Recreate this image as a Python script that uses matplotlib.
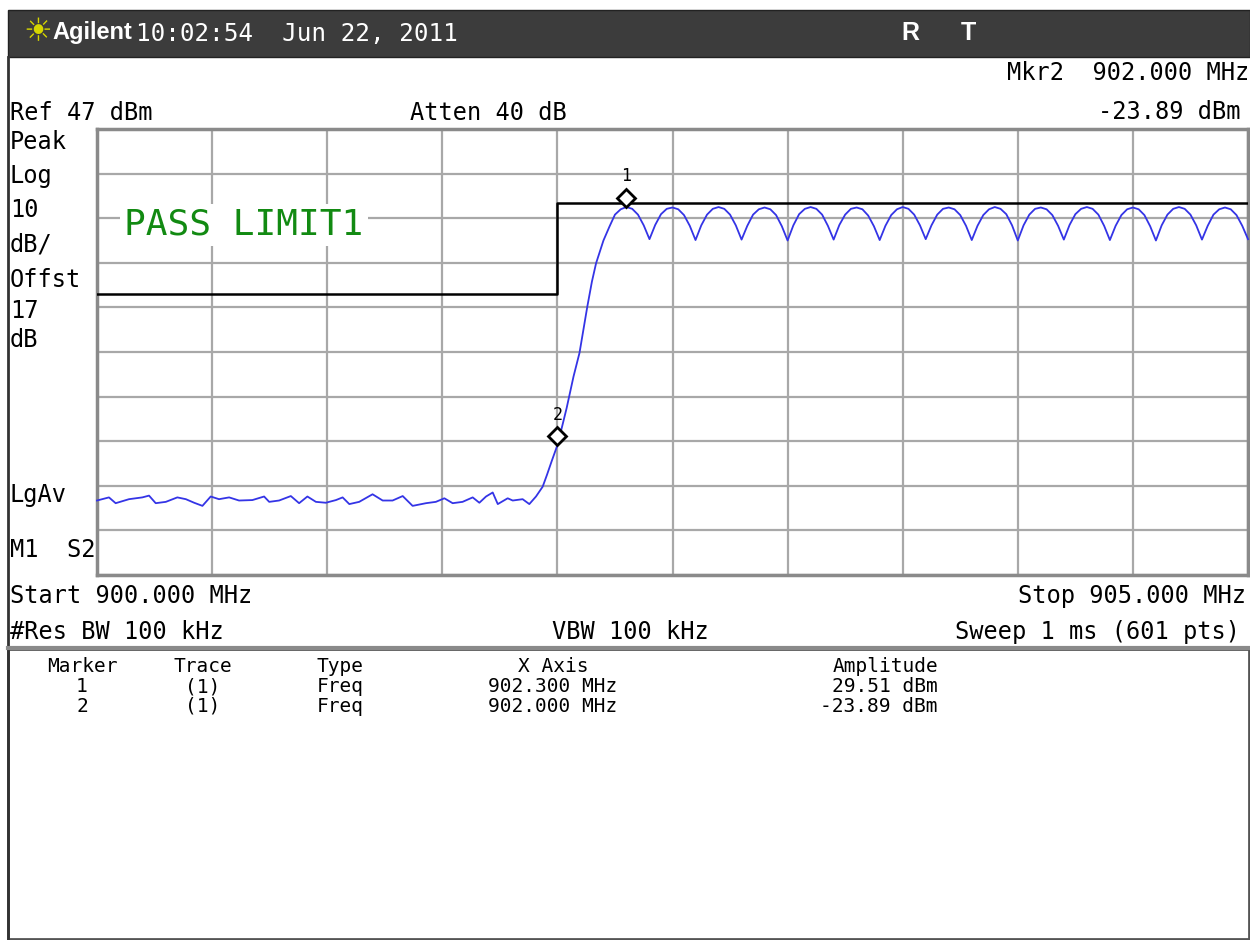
import matplotlib
matplotlib.use("Agg")
import matplotlib.pyplot as plt
from matplotlib.patches import Rectangle
from matplotlib.lines import Line2D
from matplotlib.transforms import offset_copy

# ---------------------------------------------------------------------------
# Instrument settings (as shown on screen)
# ---------------------------------------------------------------------------
START_MHZ = 900.0
STOP_MHZ = 905.0
REF_DBM = 47
DB_PER_DIV = 10
N_DIV = 10

# ---------------------------------------------------------------------------
# Trace 1
# ---------------------------------------------------------------------------
noise_freq = [900.000, 900.052, 900.081, 900.139, 900.197, 900.226, 900.255,
              900.299, 900.349, 900.386, 900.422, 900.458, 900.494, 900.530,
              900.574, 900.617, 900.675, 900.726, 900.748, 900.791, 900.842,
              900.878, 900.914, 900.951, 900.994, 901.038, 901.067, 901.096,
              901.139, 901.197, 901.241, 901.284, 901.328, 901.371, 901.429,
              901.472, 901.509, 901.545, 901.588, 901.632, 901.661, 901.690,
              901.719, 901.741, 901.784, 901.806, 901.849, 901.878, 901.907,
              901.936]
noise_dbm = [-36.3, -35.6, -36.9, -36.0, -35.6, -35.2, -36.9,
             -36.6, -35.6, -36.0, -36.8, -37.5, -35.4, -36.0,
             -35.6, -36.3, -36.2, -35.4, -36.6, -36.3, -35.3,
             -36.9, -35.4, -36.6, -36.8, -36.2, -35.6, -37.1,
             -36.6, -34.9, -36.3, -36.3, -35.3, -37.5, -36.9,
             -36.6, -35.8, -36.9, -36.6, -35.6, -36.8, -35.4,
             -34.5, -37.1, -35.8, -36.3, -36.0, -37.1, -35.4,
             -33.2]

rise_freq = [901.955, 901.975, 902.000, 902.020, 902.040, 902.070, 902.096,
             902.130, 902.150, 902.168, 902.200, 902.226, 902.250, 902.275]
rise_dbm = [-30.5, -27.5, -23.89, -19.8, -15.6, -8.5, -3.2,
            7.2, 12.8, 16.9, 22.0, 25.1, 27.8, 29.0]

ripple_freq = [
    902.300, 902.325, 902.350, 902.375, 902.400, 902.425, 902.450, 902.475,
    902.500, 902.525, 902.550, 902.575, 902.600, 902.625, 902.650, 902.675,
    902.700, 902.725, 902.750, 902.775, 902.800, 902.825, 902.850, 902.875,
    902.900, 902.925, 902.950, 902.975, 903.000, 903.025, 903.050, 903.075,
    903.100, 903.125, 903.150, 903.175, 903.200, 903.225, 903.250, 903.275,
    903.300, 903.325, 903.350, 903.375, 903.400, 903.425, 903.450, 903.475,
    903.500, 903.525, 903.550, 903.575, 903.600, 903.625, 903.650, 903.675,
    903.700, 903.725, 903.750, 903.775, 903.800, 903.825, 903.850, 903.875,
    903.900, 903.925, 903.950, 903.975, 904.000, 904.025, 904.050, 904.075,
    904.100, 904.125, 904.150, 904.175, 904.200, 904.225, 904.250, 904.275,
    904.300, 904.325, 904.350, 904.375, 904.400, 904.425, 904.450, 904.475,
    904.500, 904.525, 904.550, 904.575, 904.600, 904.625, 904.650, 904.675,
    904.700, 904.725, 904.750, 904.775, 904.800, 904.825, 904.850, 904.875,
    904.900, 904.925, 904.950, 904.975, 905.000,
]
ripple_dbm = [
    29.51, 29.1, 27.8, 25.4, 22.3, 25.5, 27.9, 29.1,
    29.4, 29.0, 27.7, 25.3, 22.1, 25.4, 27.8, 29.1,
    29.5, 29.1, 27.8, 25.4, 22.2, 25.3, 27.8, 29.0,
    29.4, 29.0, 27.7, 25.2, 22.0, 25.4, 27.9, 29.1,
    29.5, 29.1, 27.8, 25.3, 22.2, 25.5, 27.8, 29.1,
    29.4, 29.0, 27.6, 25.2, 22.1, 25.3, 27.7, 29.0,
    29.5, 29.1, 27.8, 25.4, 22.3, 25.4, 27.8, 29.1,
    29.4, 29.0, 27.7, 25.3, 22.1, 25.3, 27.7, 29.0,
    29.5, 29.1, 27.9, 25.4, 22.0, 25.4, 27.8, 29.1,
    29.4, 29.0, 27.7, 25.3, 22.2, 25.5, 27.9, 29.1,
    29.5, 29.1, 27.8, 25.3, 22.1, 25.3, 27.7, 29.0,
    29.4, 29.0, 27.7, 25.2, 22.0, 25.4, 27.8, 29.1,
    29.5, 29.1, 27.8, 25.4, 22.2, 25.3, 27.8, 29.0,
    29.4, 29.0, 27.7, 25.3, 22.3,
]

# Limit line 1 (step at 902 MHz)
limit_freq = [900.0, 902.0, 905.0]
limit_dbm = [10.0, 30.5, 30.5]

# Markers
mkr_num = [1, 2]
mkr_freq = [902.300, 902.000]
mkr_amp = [29.51, -23.89]

# Screen annotation texts
left_labels = ["Peak", "Log", "10", "dB/", "Offst", "17", "dB"]
left_label_y = [142, 176, 210, 244, 280, 311, 340]
table_header = ["Marker", "Trace", "Type", "X Axis", "Amplitude"]

MONO = "DejaVu Sans Mono"
W, H = 1250, 940
TRACE_BLUE = "#3434e6"
GRID_GREY = "#a8a8a8"


def fx(x):
    return x / W


def fy(y):
    return 1 - y / H


def put(x, y, s, **kw):
    """Screen text at pixel position (x from left, y from top)."""
    kw.setdefault("family", MONO)
    kw.setdefault("fontsize", 17)
    kw.setdefault("va", "center")
    kw.setdefault("color", "black")
    fig.text(fx(x), fy(y), s, **kw)


fig = plt.figure(figsize=(W / 100, H / 100), dpi=100)
fig.patch.set_facecolor("white")

# ── title bar ───────────────────────────────────────────────────────────────
fig.patches.append(Rectangle((fx(8), fy(57)), fx(1250) - fx(8), fy(10) - fy(57),
                             transform=fig.transFigure, facecolor="#3c3c3c",
                             edgecolor="#222222", lw=1))
put(38, 33, "\u2600", family="DejaVu Sans", fontsize=23, color="#d6d600", ha="center")
put(52, 33, "Agilent", family="Liberation Sans", fontsize=17, weight="bold", color="white")
put(136, 34, "10:02:54  Jun 22, 2011", fontsize=17.5, color="white")
put(910, 33, "R", family="Liberation Sans", fontsize=18, weight="bold", color="white", ha="center")
put(968, 33, "T", family="Liberation Sans", fontsize=18, weight="bold", color="white", ha="center")

# left frame line
fig.lines.append(Line2D([fx(8), fx(8)], [fy(57), fy(940)], transform=fig.transFigure,
                        color="#333333", lw=2))

# ── header lines ────────────────────────────────────────────────────────────
put(1249, 73, f"Mkr{mkr_num[1]}  {mkr_freq[1]:.3f} MHz", ha="right")
put(10, 113, f"Ref {REF_DBM} dBm")
put(410, 113, "Atten 40 dB")
put(1240, 112, f"{mkr_amp[1]:.2f} dBm", ha="right")

for lab, y in zip(left_labels, left_label_y):
    put(10, y, lab)
put(10, 495, "LgAv")
put(10, 550, "M1  S2")

# ── graticule ───────────────────────────────────────────────────────────────
ax = fig.add_axes([fx(97), fy(575), (1248 - 97) / W, (575 - 129) / H])
bottom_dbm = REF_DBM - N_DIV * DB_PER_DIV
ax.set_xlim(START_MHZ, STOP_MHZ)
ax.set_ylim(bottom_dbm, REF_DBM)
span = STOP_MHZ - START_MHZ
ax.set_xticks([START_MHZ + i * span / N_DIV for i in range(N_DIV + 1)])
ax.set_yticks([bottom_dbm + i * DB_PER_DIV for i in range(N_DIV + 1)])
ax.tick_params(length=0, labelbottom=False, labelleft=False)
ax.grid(True, color=GRID_GREY, lw=1.6)
ax.set_axisbelow(True)
for sp in ax.spines.values():
    sp.set_color("#8a8a8a")
    sp.set_linewidth(2.5)

ax.plot(limit_freq, limit_dbm, drawstyle="steps-post", color="black", lw=1.8, zorder=3)

trace_freq = noise_freq + rise_freq + ripple_freq
trace_dbm = noise_dbm + rise_dbm + ripple_dbm
ax.plot(trace_freq, trace_dbm, color=TRACE_BLUE, lw=1.3, zorder=4, clip_on=False)

# markers: diamond sits just above the trace point, number above that
mk_tr = offset_copy(ax.transData, fig=fig, x=0, y=9, units="dots")
for n, f, a in zip(mkr_num, mkr_freq, mkr_amp):
    ax.plot([f], [a], marker="D", ms=9, mfc="white", mec="black", mew=2,
            transform=mk_tr, zorder=6, clip_on=False)
    ax.annotate(str(n), xy=(f, a), xytext=(0, 22), textcoords="offset points",
                ha="center", va="center", family=MONO, fontsize=12, zorder=6)

ax.text(0.0235, 0.785, "PASS LIMIT1", transform=ax.transAxes, family=MONO,
        fontsize=26, color="#128a12", va="center", ha="left", zorder=5,
        bbox=dict(facecolor="white", edgecolor="none", pad=3))

# ── footer lines ────────────────────────────────────────────────────────────
put(10, 596, f"Start {START_MHZ:.3f} MHz")
put(1246, 596, f"Stop {STOP_MHZ:.3f} MHz", ha="right")
put(10, 632, "#Res BW 100 kHz")
put(630, 632, "VBW 100 kHz", ha="center")
put(1240, 632, "Sweep 1 ms (601 pts)", ha="right")

# ── marker table ────────────────────────────────────────────────────────────
fig.patches.append(Rectangle((fx(8), fy(939)), fx(1249) - fx(8), fy(649) - fy(939),
                             transform=fig.transFigure, facecolor="white",
                             edgecolor="#555555", lw=2))
fig.lines.append(Line2D([fx(8), fx(1250)], [fy(648), fy(648)], transform=fig.transFigure,
                        color="#8a8a8a", lw=3))

col_x = [82, 203, 340, 553, 938]
col_ha = ["center", "center", "center", "center", "right"]
for s, x, ha in zip(table_header, col_x, col_ha):
    put(x, 666, s, fontsize=14, ha=ha)
for i, (n, f, a) in enumerate(zip(mkr_num, mkr_freq, mkr_amp)):
    y = 687 + i * 19
    row = [str(n), "(1)", "Freq", f"{f:.3f} MHz", f"{a:.2f} dBm"]
    for s, x, ha in zip(row, col_x, col_ha):
        put(x, y, s, fontsize=14, ha=ha)

fig.savefig("out.png", dpi=100, facecolor="white")
